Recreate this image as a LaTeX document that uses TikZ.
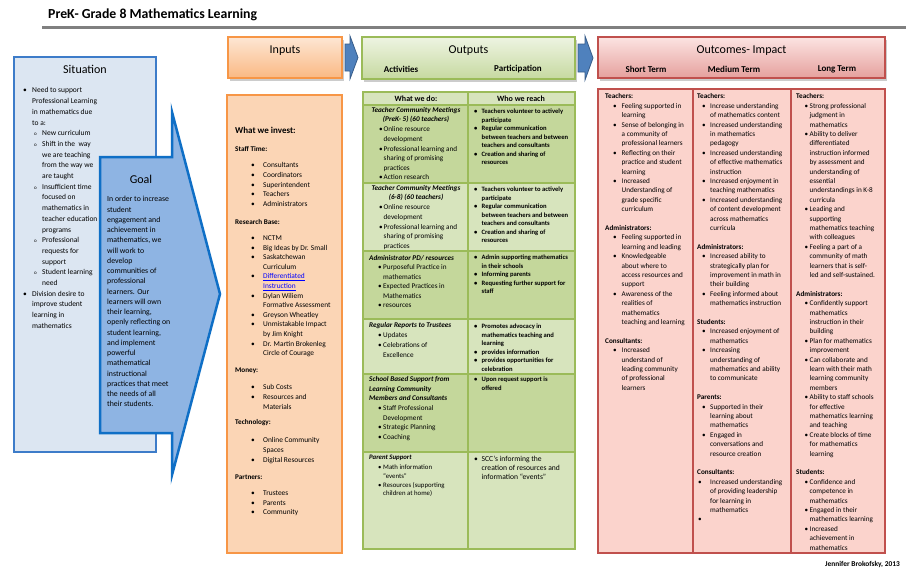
\documentclass[tikz,border=0pt]{standalone}
\usepackage{fontspec}
\setmainfont{Carlito}
\usetikzlibrary{positioning,shadows}

\definecolor{sitfill}{HTML}{DCE6F2}
\definecolor{sitedge}{HTML}{3D7CC9}
\definecolor{goalfill}{HTML}{8EB4E3}
\definecolor{goaledge}{HTML}{0F6FC6}
\definecolor{infill}{HTML}{FBD5B5}
\definecolor{inedge}{HTML}{F79646}
\definecolor{intop}{HTML}{FDE6D4}
\definecolor{inbot}{HTML}{FAB983}
\definecolor{outedge}{HTML}{9BBB59}
\definecolor{outtop}{HTML}{EEF4E2}
\definecolor{outbot}{HTML}{C6D9A0}
\definecolor{rowdark}{HTML}{C4D79B}
\definecolor{rowlight}{HTML}{D7E4BD}
\definecolor{resedge}{HTML}{C0504D}
\definecolor{resfill}{HTML}{FBD3CC}
\definecolor{restop}{HTML}{FCE4E2}
\definecolor{resbot}{HTML}{E5A09D}
\definecolor{arrfill}{HTML}{4F81BD}
\definecolor{arredge}{HTML}{385D8A}
\definecolor{rulegray}{HTML}{808080}
\definecolor{linkblue}{HTML}{0000FF}

\newlength{\bo}
\newlength{\bw}
\newcommand{\itm}[1]{\hspace*{\bo}\makebox[\bw][l]{\textbullet}#1}
\newcommand{\cnt}[1]{\hspace*{\bo}\hspace*{\bw}#1}
\newcommand{\sitm}[1]{\hspace*{11pt}\makebox[8pt][l]{\fontsize{5}{5}\selectfont o}#1}
\newcommand{\scnt}[1]{\hspace*{19pt}#1}

\begin{document}
\begin{tikzpicture}[x=1pt, y=-1pt,
  box/.style={draw, line width=2.5pt, anchor=north west, inner sep=0pt, outer sep=0pt},
  headbox/.style={box, drop shadow={shadow xshift=1.5pt, shadow yshift=-2.5pt, fill=black!50, opacity=0.4}},
  headtxt/.style={font=\fontsize{12}{14}\selectfont, inner sep=0pt},
  coltxt/.style={font=\bfseries\fontsize{9}{11}\selectfont, inner sep=0pt},
  subhd/.style={font=\bfseries\fontsize{7.2}{9}\selectfont, anchor=west, inner sep=0pt},
  bullets/.style 2 args={align=left, anchor=north west, inner sep=0pt,
    /utils/exec={\setlength{\bo}{#1}\setlength{\bw}{#2}}},
  inlist/.style={font=\fontsize{7.4}{9.6}\selectfont},
  dolist/.style={font=\fontsize{7.2}{9.6}\selectfont},
  dotitle/.style={font=\bfseries\itshape\fontsize{7.2}{9}\selectfont, inner sep=0pt},
  reach/.style={font=\bfseries\fontsize{6.6}{8.5}\selectfont},
  restxt/.style={font=\fontsize{7.2}{9.4}\selectfont},
  tableline/.style={draw=outedge, line width=2.5pt},
  blockarr/.style={fill=arrfill, draw=arredge, line width=0.8pt}
]
\fill[white] (0,0) rectangle (909,579);
\useasboundingbox (0,0) rectangle (909,579);

% title and rule
\node[font=\bfseries\fontsize{13.8}{16}\selectfont, anchor=west, inner sep=0pt] (title) at (48,15) {PreK- Grade 8 Mathematics Learning};
\draw[rulegray, line width=3pt] (42,27) -- (906,27);

% situation
\node[box, draw=sitedge, fill=sitfill, minimum width=142pt, minimum height=395pt] (sitbox) at (14,57) {};
\node[headtxt] (sittitle) at (85,69) {Situation};
\node[bullets={0pt}{9pt}, font=\fontsize{7.5}{10.7}\selectfont] (sitlist) at (23,87.5) {%
\itm{Need to support}\\
\cnt{Professional Learning}\\
\cnt{in mathematics due}\\
\cnt{to a:}\\
\sitm{New curriculum}\\
\sitm{Shift in the\ \ way}\\
\scnt{we are teaching}\\
\scnt{from the way we}\\
\scnt{are taught}\\
\sitm{Insufficient time}\\
\scnt{focused on}\\
\scnt{mathematics in}\\
\scnt{teacher education}\\
\scnt{programs}\\
\sitm{Professional}\\
\scnt{requests for}\\
\scnt{support}\\
\sitm{Student learning}\\
\scnt{need}\\
\itm{Division desire to}\\
\cnt{improve student}\\
\cnt{learning in}\\
\cnt{mathematics}};

% goal arrow
\draw[fill=goalfill, draw=goaledge, line width=2.5pt] (100,157) -- (172,157) -- (172,112) -- (220,294) -- (172,475) -- (172,433) -- (100,433) -- cycle;
\node[headtxt] (goaltitle) at (141,179) {Goal};
\node[align=left, anchor=north west, inner sep=0pt, font=\fontsize{7.8}{10.25}\selectfont] (goaltext) at (107,196.3) {%
In order to increase\\ student\\ engagement and\\ achievement in\\ mathematics, we\\ will work to\\ develop\\ communities of\\ professional\\ learners. Our\\ learners will own\\ their learning,\\ openly reflecting on\\ student learning,\\ and implement\\ powerful\\ mathematical\\ instructional\\ practices that meet\\ the needs of all\\ their students.};

% inputs
\node[headbox, draw=inedge, top color=intop, bottom color=inbot, minimum width=114pt, minimum height=41pt] (inhead) at (228,37) {};
\node[headtxt, below=8.4pt of inhead.north] (intitle) {Inputs};
\node[box, draw=inedge, fill=infill, minimum width=115pt, minimum height=458pt] (inbody) at (227,95) {};
\node[coltxt, anchor=west] (investhd) at (235,130) {What we invest:};
\node[subhd] (staffhd) at (235,149) {Staff Time:};
\node[bullets={0pt}{12pt}, inlist] (stafflist) at (251,162.5) {\itm{Consultants}\\ \itm{Coordinators}\\ \itm{Superintendent}\\ \itm{Teachers}\\ \itm{Administrators}};
\node[subhd] (researchhd) at (235,222) {Research Base:};
\node[bullets={0pt}{12pt}, inlist] (researchlist) at (251,235.5) {\itm{NCTM}\\ \itm{Big Ideas by Dr. Small}\\ \itm{Saskatchewan}\\ \cnt{Curriculum}\\ \itm{\textcolor{linkblue}{\underline{Differentiated}}}\\ \cnt{\textcolor{linkblue}{\underline{Instruction}}}\\ \itm{Dylan Wiliem}\\ \cnt{Formative Assessment}\\ \itm{Greyson Wheatley}\\ \itm{Unmistakable Impact}\\ \cnt{by Jim Knight}\\ \itm{Dr. Martin Brokenleg}\\ \cnt{Circle of Courage}};
\node[subhd] (moneyhd) at (235,371) {Money:};
\node[bullets={0pt}{12pt}, inlist] (moneylist) at (251,384.5) {\itm{Sub Costs}\\ \itm{Resources and}\\ \cnt{Materials}};
\node[subhd] (techhd) at (235,423) {Technology:};
\node[bullets={0pt}{12pt}, inlist] (techlist) at (251,437.5) {\itm{Online Community}\\ \cnt{Spaces}\\ \itm{Digital Resources}};
\node[subhd] (partnerhd) at (235,477) {Partners:};
\node[bullets={0pt}{12pt}, inlist] (partnerlist) at (251,490.5) {\itm{Trustees}\\ \itm{Parents}\\ \itm{Community}};

% block arrows between the headers
\draw[blockarr] (345,44) -- (350,44) -- (350,36) -- (358,57.5) -- (350,79) -- (350,71) -- (345,71) -- cycle;
\draw[blockarr] (578,44) -- (585,44) -- (585,36) -- (593,58) -- (585,80) -- (585,72) -- (578,72) -- cycle;

% outputs
\node[headbox, draw=outedge, top color=outtop, bottom color=outbot, minimum width=213pt, minimum height=42pt] (outhead) at (362,37) {};
\node[headtxt, below=8.4pt of outhead.north] (outtitle) {Outputs};
\node[coltxt] (acthd) at (401,69) {Activities};
\node[coltxt] (parthd) at (518,69) {Participation};

\foreach \ya/\yb/\rc in {92/105/rowlight, 105/183/rowdark, 183/251/rowlight, 251/319/rowdark, 319/374/rowlight, 374/452/rowdark, 452/549/rowlight}
  \fill[fill=\rc] (363,\ya) rectangle (575,\yb);
\foreach \yy in {105,183,251,319,374,452}
  \draw[tableline] (363,\yy) -- (575,\yy);
\draw[tableline] (468,92) -- (468,549);
\node[box, draw=outedge, minimum width=212pt, minimum height=457pt] (outbody) at (363,92) {};

\node[font=\bfseries\fontsize{8}{10}\selectfont, inner sep=0pt] (dohd) at (416,98.5) {What we do:};
\node[font=\bfseries\fontsize{8}{10}\selectfont, inner sep=0pt] (reachhd) at (521,98.5) {Who we reach};

\node[dotitle, align=center] (tcmone) at (416,115.5) {Teacher Community Meetings\\(PreK- 5) (60 teachers)};
\node[bullets={0pt}{4.5pt}, dolist] (tcmonelist) at (379,126.6) {\itm{Online resource}\\ \cnt{development}\\ \itm{Professional learning and}\\ \cnt{sharing of promising}\\ \cnt{practices}\\ \itm{Action research}};
\node[bullets={0pt}{7.5pt}, reach] (tcmonereach) at (474,108.9) {\itm{Teachers volunteer to actively}\\ \cnt{participate}\\ \itm{Regular communication}\\ \cnt{between teachers and between}\\ \cnt{teachers and consultants}\\ \itm{Creation and sharing of}\\ \cnt{resources}};

\node[dotitle, align=center] (tcmtwo) at (416,193.5) {Teacher Community Meetings\\(6-8) (60 teachers)};
\node[bullets={0pt}{4.5pt}, dolist] (tcmtwolist) at (379,204.6) {\itm{Online resource}\\ \cnt{development}\\ \itm{Professional learning and}\\ \cnt{sharing of promising}\\ \cnt{practices}};
\node[bullets={0pt}{7.5pt}, reach] (tcmtworeach) at (474,186.9) {\itm{Teachers volunteer to actively}\\ \cnt{participate}\\ \itm{Regular communication}\\ \cnt{between teachers and between}\\ \cnt{teachers and consultants}\\ \itm{Creation and sharing of}\\ \cnt{resources}};

\node[dotitle, anchor=west] (admpd) at (369,258) {Administrator PD/ resources};
\node[bullets={0pt}{5pt}, font=\fontsize{7.2}{9.5}\selectfont] (admpdlist) at (378,264.6) {\itm{Purposeful Practice in}\\ \cnt{mathematics}\\ \itm{Expected Practices in}\\ \cnt{Mathematics}\\ \itm{resources}};
\node[bullets={0pt}{7.5pt}, reach] (admpdreach) at (474,254.9) {\itm{Admin supporting mathematics}\\ \cnt{in their schools}\\ \itm{Informing parents}\\ \itm{Requesting further support for}\\ \cnt{staff}};

\node[dotitle, anchor=west] (trustee) at (369,326) {Regular Reports to Trustees};
\node[bullets={0pt}{5pt}, dolist] (trusteelist) at (378,332.6) {\itm{Updates}\\ \itm{Celebrations of}\\ \cnt{Excellence}};
\node[bullets={0pt}{7.5pt}, reach] (trusteereach) at (474,323.9) {\itm{Promotes advocacy in}\\ \cnt{mathematics teaching and}\\ \cnt{learning}\\ \itm{provides information}\\ \itm{provides opportunities for}\\ \cnt{celebration}};

\node[dotitle, align=left, anchor=north west, font=\bfseries\itshape\fontsize{7.2}{9.4}\selectfont] (school) at (369,376.6) {School Based Support from\\ Learning Community\\ Members and Consultants};
\node[bullets={0pt}{5pt}, font=\fontsize{7.2}{9.4}\selectfont] (schoollist) at (378,405.6) {\itm{Staff Professional}\\ \cnt{Development}\\ \itm{Strategic Planning}\\ \itm{Coaching}};
\node[bullets={0pt}{7.5pt}, reach] (schoolreach) at (474,376.9) {\itm{Upon request support is}\\ \cnt{offered}};

\node[dotitle, anchor=west, font=\bfseries\itshape\fontsize{6.8}{8.7}\selectfont] (parent) at (369,458) {Parent Support};
\node[bullets={0pt}{5pt}, font=\fontsize{6.8}{8.7}\selectfont] (parentlist) at (378,464.8) {\itm{Math information}\\ \cnt{“events”}\\ \itm{Resources (supporting}\\ \cnt{children at home)}};
\node[bullets={0pt}{7.5pt}, font=\fontsize{7.6}{9}\selectfont] (parentreach) at (474,456.4) {\itm{SCC’s informing the}\\ \cnt{creation of resources and}\\ \cnt{information “events”}};

% outcomes
\node[headbox, draw=resedge, top color=restop, bottom color=resbot, minimum width=287pt, minimum height=41pt] (reshead) at (598,37) {};
\node[headtxt, below=8.4pt of reshead.north] (restitle) {Outcomes- Impact};
\node[coltxt] (shorthd) at (646,69) {Short Term};
\node[coltxt] (mediumhd) at (734,69) {Medium Term};
\node[coltxt] (longhd) at (837,69) {Long Term};
\node[box, draw=resedge, fill=resfill, minimum width=287pt, minimum height=464pt] (resbody) at (598,89) {};
\draw[draw=resedge, line width=2.5pt] (693,89) -- (693,553);
\draw[draw=resedge, line width=2.5pt] (791,89) -- (791,553);

\node[bullets={8pt}{8.5pt}, restxt] (shortlist) at (605,93.6) {%
\textbf{Teachers:}\\
\itm{Feeling supported in}\\
\cnt{learning}\\
\itm{Sense of belonging in}\\
\cnt{a community of}\\
\cnt{professional learners}\\
\itm{Reflecting on their}\\
\cnt{practice and student}\\
\cnt{learning}\\
\itm{Increased}\\
\cnt{Understanding of}\\
\cnt{grade specific}\\
\cnt{curriculum}\\
~\\
\textbf{Administrators:}\\
\itm{Feeling supported in}\\
\cnt{learning and leading}\\
\itm{Knowledgeable}\\
\cnt{about where to}\\
\cnt{access resources and}\\
\cnt{support}\\
\itm{Awareness of the}\\
\cnt{realities of}\\
\cnt{mathematics}\\
\cnt{teaching and learning}\\
~\\
\textbf{Consultants:}\\
\itm{Increased}\\
\cnt{understand of}\\
\cnt{leading community}\\
\cnt{of professional}\\
\cnt{learners}};

\node[bullets={5pt}{8pt}, restxt] (mediumlist) at (697,93.6) {%
\textbf{Teachers:}\\
\itm{Increase understanding}\\
\cnt{of mathematics content}\\
\itm{Increased understanding}\\
\cnt{in mathematics}\\
\cnt{pedagogy}\\
\itm{Increased understanding}\\
\cnt{of effective mathematics}\\
\cnt{instruction}\\
\itm{Increased enjoyment in}\\
\cnt{teaching mathematics}\\
\itm{Increased understanding}\\
\cnt{of content development}\\
\cnt{across mathematics}\\
\cnt{curricula}\\
~\\
\textbf{Administrators:}\\
\itm{Increased ability to}\\
\cnt{strategically plan for}\\
\cnt{improvement in math in}\\
\cnt{their building}\\
\itm{Feeling informed about}\\
\cnt{mathematics instruction}\\
~\\
\textbf{Students:}\\
\itm{Increased enjoyment of}\\
\cnt{mathematics}\\
\itm{Increasing}\\
\cnt{understanding of}\\
\cnt{mathematics and ability}\\
\cnt{to communicate}\\
~\\
\textbf{Parents:}\\
\itm{Supported in their}\\
\cnt{learning about}\\
\cnt{mathematics}\\
\itm{Engaged in}\\
\cnt{conversations and}\\
\cnt{resource creation}\\
~\\
\textbf{Consultants:}\\
\makebox[13pt][l]{\hspace*{1pt}\textbullet}Increased understanding\\
\hspace*{13pt}of providing leadership\\
\hspace*{13pt}for learning in\\
\hspace*{13pt}mathematics\\
\hspace*{1pt}\textbullet};

\node[bullets={8.5pt}{5pt}, restxt] (longlist) at (796,93.6) {%
\textbf{Teachers:}\\
\itm{Strong professional}\\
\cnt{judgment in}\\
\cnt{mathematics}\\
\itm{Ability to deliver}\\
\cnt{differentiated}\\
\cnt{instruction informed}\\
\cnt{by assessment and}\\
\cnt{understanding of}\\
\cnt{essential}\\
\cnt{understandings in K-8}\\
\cnt{curricula}\\
\itm{Leading and}\\
\cnt{supporting}\\
\cnt{mathematics teaching}\\
\cnt{with colleagues}\\
\itm{Feeling a part of a}\\
\cnt{community of math}\\
\cnt{learners that is self-}\\
\cnt{led and self-sustained.}\\
~\\
\textbf{Administrators:}\\
\itm{Confidently support}\\
\cnt{mathematics}\\
\cnt{instruction in their}\\
\cnt{building}\\
\itm{Plan for mathematics}\\
\cnt{improvement}\\
\itm{Can collaborate and}\\
\cnt{learn with their math}\\
\cnt{learning community}\\
\cnt{members}\\
\itm{Ability to staff schools}\\
\cnt{for effective}\\
\cnt{mathematics learning}\\
\cnt{and teaching}\\
\itm{Create blocks of time}\\
\cnt{for mathematics}\\
\cnt{learning}\\
~\\
\textbf{Students:}\\
\itm{Confidence and}\\
\cnt{competence in}\\
\cnt{mathematics}\\
\itm{Engaged in their}\\
\cnt{mathematics learning}\\
\itm{Increased}\\
\cnt{achievement in}\\
\cnt{mathematics}};

\node[font=\bfseries\fontsize{7.4}{9}\selectfont, anchor=east, inner sep=0pt] (author) at (900,564) {Jennifer Brokofsky, 2013};
\end{tikzpicture}
\end{document}
